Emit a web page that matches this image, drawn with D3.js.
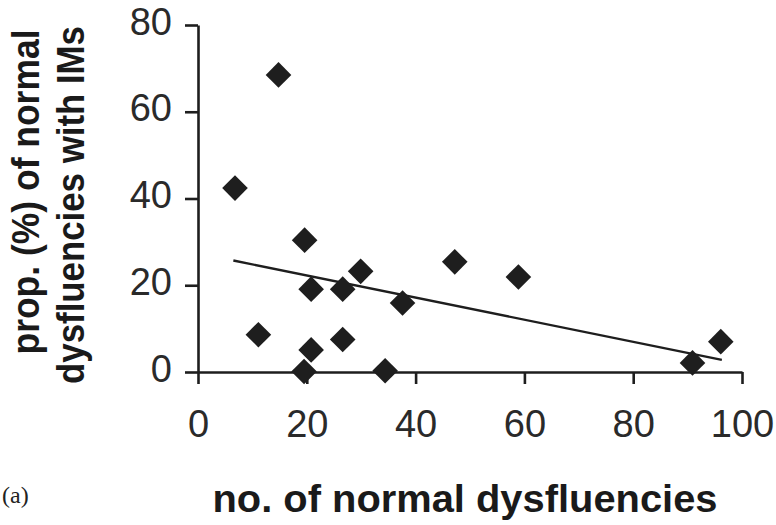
<!DOCTYPE html>
<html>
<head>
<meta charset="utf-8">
<script src="https://cdn.jsdelivr.net/npm/d3@7"></script>
<style>
  html, body { margin: 0; padding: 0; background: #fff; }
  svg { display: block; }
</style>
</head>
<body>
<svg id="chart" width="776" height="525"></svg>
<script>
// Data
const normalDysfluencies = [6.8, 14.8, 11.1, 19.6, 20.8, 20.8, 19.5, 26.6, 26.6, 29.9, 34.4, 37.6, 47.2, 58.9, 90.9, 96.1];
const propWithIMs        = [42.4, 68.5, 8.6, 30.4, 19.1, 5.1, 0.1, 19.1, 7.5, 23.2, 0.3, 15.9, 25.4, 21.9, 2.1, 7.0];
const trendX = [6.5, 96.3];
const trendY = [25.7, 2.8];
const xTicks = [0, 20, 40, 60, 80, 100];
const yTicks = [0, 20, 40, 60, 80];
const xTitle = "no. of normal dysfluencies";
const yTitleLines = ["prop. (%) of normal", "dysfluencies with IMs"];
const panelLabel = "(a)";

const svg = d3.select("#chart");
const ink = "#1e1e1e";

const x = d3.scaleLinear().domain([0, 100]).range([198, 742]);
const y = d3.scaleLinear().domain([0, 80]).range([372, 25]);

// Axes
const xAxis = svg.append("g")
  .attr("transform", `translate(0,${y(0)})`)
  .call(d3.axisBottom(x).tickValues(xTicks).tickSize(12).tickSizeOuter(0).tickPadding(26));
const yAxis = svg.append("g")
  .attr("transform", `translate(${x(0)},0)`)
  .call(d3.axisLeft(y).tickValues(yTicks).tickSize(13).tickSizeOuter(0).tickPadding(13));

[xAxis, yAxis].forEach(g => {
  g.selectAll("path, line").attr("stroke", ink).attr("stroke-width", 2.6);
  g.selectAll("text")
    .attr("fill", "#2a2a2a")
    .style("font-family", "'Liberation Sans', Arial, sans-serif")
    .style("font-size", "38px");
  g.attr("font-family", null).attr("font-size", null);
});
yAxis.selectAll("text").attr("dy", "0.24em");

// Trend line
svg.append("line")
  .attr("x1", x(trendX[0])).attr("y1", y(trendY[0]))
  .attr("x2", x(trendX[1])).attr("y2", y(trendY[1]))
  .attr("stroke", ink).attr("stroke-width", 2.4);

// Diamonds
const pts = normalDysfluencies.map((v, i) => ({ x: v, y: propWithIMs[i] }));
svg.append("g").selectAll("path")
  .data(pts).join("path")
  .attr("d", d3.symbol(d3.symbolSquare, 328))
  .attr("transform", d => `translate(${x(d.x)},${y(d.y)}) rotate(45)`)
  .attr("fill", ink);

// Axis titles: scaled horizontally (in their own frame) to the reference's width
const boldFont = "'Liberation Sans', Arial, Helvetica, sans-serif";
function fittedTitle(text, cx, cy, angle, len) {
  const g = svg.append("g");
  const t = g.append("text")
    .attr("text-anchor", "middle")
    .style("font-family", boldFont).style("font-weight", "bold").style("font-size", "38px")
    .attr("fill", "#1a1a1a")
    .text(text);
  const natural = t.node().getComputedTextLength();
  g.attr("transform", `translate(${cx},${cy}) rotate(${angle}) scale(${len / natural},1)`);
}
fittedTitle(xTitle, 465, 512, 0, 505);
fittedTitle(yTitleLines[0], 39, 192, -90, 325);
fittedTitle(yTitleLines[1], 84, 205, -90, 358);

// Panel label
svg.append("text")
  .attr("x", 2).attr("y", 503)
  .style("font-family", "'Liberation Serif', 'Times New Roman', serif")
  .style("font-size", "24px")
  .attr("fill", "#222")
  .text(panelLabel);
</script>
</body>
</html>
